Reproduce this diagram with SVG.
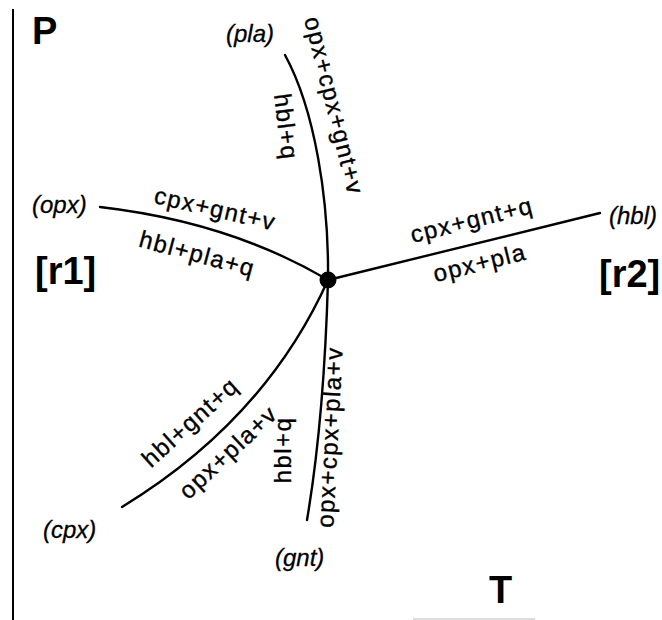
<svg xmlns="http://www.w3.org/2000/svg" width="662" height="620" viewBox="0 0 662 620">
<style>
.lbl{font-family:"Liberation Sans",Arial,Helvetica,sans-serif;font-size:24px;letter-spacing:1.5px;fill:#000;stroke:#000;stroke-width:0.35}
.ph{font-family:"Liberation Sans",Arial,Helvetica,sans-serif;font-size:24px;font-style:italic;fill:#000;stroke:#000;stroke-width:0.3}
.big{font-family:"Liberation Sans",Arial,Helvetica,sans-serif;font-size:38px;font-weight:bold;fill:#000}
.ln{fill:none;stroke:#000;stroke-width:2.4;stroke-linecap:round}
</style>
<rect width="662" height="620" fill="#fff"/>
<g id="axes">
<line x1="13" y1="9" x2="13" y2="620" stroke="#000" stroke-width="2"/>
<line x1="413" y1="619" x2="535" y2="619" stroke="#d0d0d0" stroke-width="1.5"/>
<text class="big" x="32" y="44">P</text>
<text class="big" x="489" y="603">T</text>
<text class="big" x="35" y="284">[r1]</text>
<text class="big" x="599" y="287">[r2]</text>
</g>
<g id="connectors">
<path class="ln" d="M328,280 C329,200 315,110 285,55"/>
<path class="ln" d="M100,207 Q230,222 328,280"/>
<path class="ln" d="M328,280 L600,213"/>
<path class="ln" d="M328,280 Q265,420 122,507"/>
<path class="ln" d="M328,280 Q324,420 307,520"/>
</g>
<g id="node-invariant-point">
<circle cx="328" cy="280" r="8.5" fill="#000"/>
</g>
<g id="node-pla">
<text class="ph" x="226" y="42">(pla)</text>
<text class="lbl" text-anchor="middle" y="7" transform="translate(333,106) rotate(76)">opx+cpx+gnt+v</text>
<text class="lbl" text-anchor="middle" y="7" transform="translate(285,127) rotate(83)">hbl+q</text>
</g>
<g id="node-opx">
<text class="ph" x="32" y="213">(opx)</text>
<text class="lbl" text-anchor="middle" y="7" transform="translate(215,210) rotate(13)">cpx+gnt+v</text>
<text class="lbl" text-anchor="middle" y="7" transform="translate(197,255) rotate(15)">hbl+pla+q</text>
</g>
<g id="node-hbl">
<text class="ph" x="609" y="224">(hbl)</text>
<text class="lbl" text-anchor="middle" y="7" transform="translate(472,221) rotate(-14)">cpx+gnt+q</text>
<text class="lbl" text-anchor="middle" y="7" transform="translate(480,264) rotate(-14)">opx+pla</text>
</g>
<g id="node-cpx">
<text class="ph" x="43" y="538">(cpx)</text>
<text class="lbl" text-anchor="middle" y="7" transform="translate(191,423) rotate(-42)">hbl+gnt+q</text>
<text class="lbl" text-anchor="middle" y="7" transform="translate(229,453) rotate(-43)">opx+pla+v</text>
</g>
<g id="node-gnt">
<text class="ph" x="275" y="566">(gnt)</text>
<text class="lbl" text-anchor="middle" y="7" transform="translate(284,450) rotate(-90)">hbl+q</text>
<text class="lbl" text-anchor="middle" y="7" transform="translate(331,437) rotate(-87)">opx+cpx+pla+v</text>
</g>
</svg>
